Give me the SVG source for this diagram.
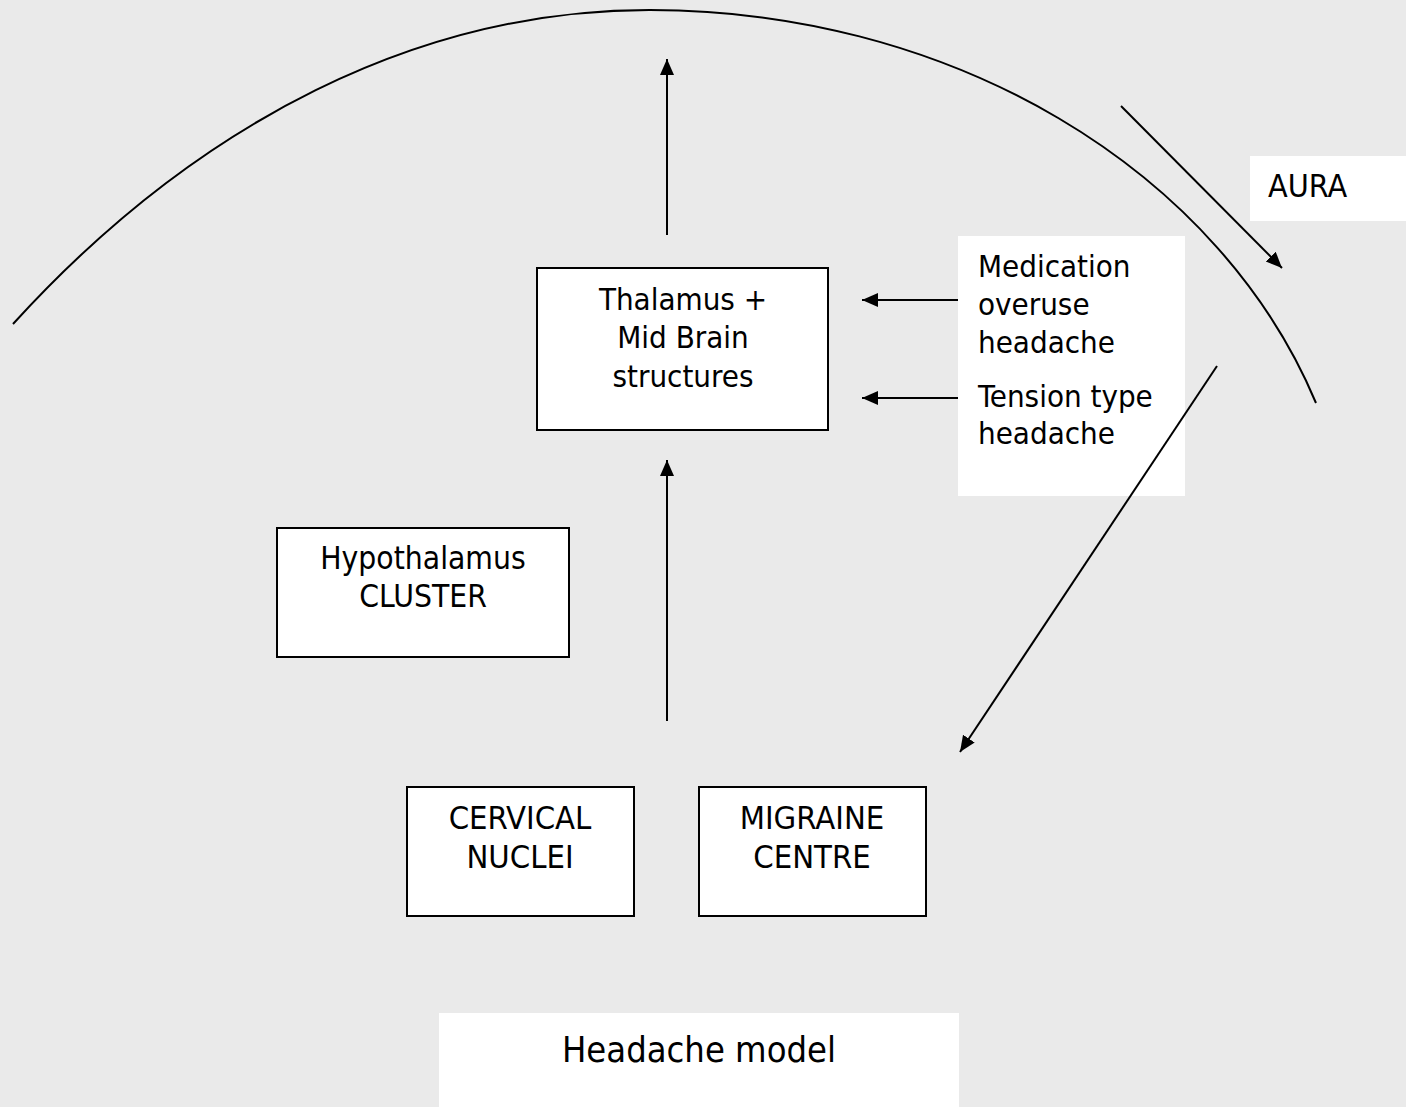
<svg xmlns="http://www.w3.org/2000/svg" width="1406" height="1107" viewBox="0 0 1406 1107">
  <style>
    .bg { fill: #EAEAEA; }
    .box { fill: #FFFFFF; stroke: #000000; stroke-width: 2; }
    .plain { fill: #FFFFFF; stroke: none; }
    .t { font-family: "DejaVu Sans Condensed", "DejaVu Sans", "Liberation Sans", sans-serif; font-stretch: condensed; font-size: 31px; fill: #000000; }
    .big { font-size: 32.5px; }
    .c { text-anchor: middle; }
    .line { stroke: #000000; stroke-width: 2; fill: none; }
  </style>
  <defs>
    <marker id="arrow" markerUnits="userSpaceOnUse" markerWidth="18" markerHeight="16" refX="16" refY="7" orient="auto">
      <path d="M0,0 L16,7 L0,14 Z" fill="#000000"/>
    </marker>
  </defs>
  <rect class="bg" x="0" y="0" width="1406" height="1107"/>

  <g id="connectors">
    <path id="arc" class="line" d="M13,324 A1100,1704 0 0,1 650,10 A705,585 0 0,1 1316,403"/>
    <line class="line" x1="667" y1="235" x2="667" y2="59" marker-end="url(#arrow)"/>
    <line class="line" x1="667" y1="721" x2="667" y2="460" marker-end="url(#arrow)"/>
    <line class="line" x1="958" y1="300" x2="862" y2="300" marker-end="url(#arrow)"/>
    <line class="line" x1="958" y1="398" x2="862" y2="398" marker-end="url(#arrow)"/>
    <line class="line" x1="1121" y1="106" x2="1282" y2="268" marker-end="url(#arrow)"/>
  </g>

  <g id="side-labels">
    <rect class="plain" x="958" y="236" width="227" height="260"/>
    <text class="t" x="978" y="277">Medication</text>
    <text class="t" x="978" y="315">overuse</text>
    <text class="t" x="978" y="353">headache</text>
    <text class="t" x="978" y="407">Tension type</text>
    <text class="t" x="978" y="444">headache</text>
  </g>

  <g id="connectors-over">
    <line class="line" x1="1217" y1="366" x2="960" y2="752" marker-end="url(#arrow)"/>
  </g>

  <g id="aura">
    <rect class="plain" x="1250" y="156" width="156" height="65"/>
    <text class="t" x="1268" y="197" style="font-size:32px">AURA</text>
  </g>

  <g id="thalamus">
    <rect class="box" x="537" y="268" width="291" height="162"/>
    <text class="t c" x="683" y="310">Thalamus +</text>
    <text class="t c" x="683" y="348">Mid Brain</text>
    <text class="t c" x="683" y="387">structures</text>
  </g>

  <g id="hypothalamus">
    <rect class="box" x="277" y="528" width="292" height="129"/>
    <text class="t c" x="423" y="569" style="font-size:31.5px">Hypothalamus</text>
    <text class="t c" x="423" y="607" style="font-size:31.5px">CLUSTER</text>
  </g>

  <g id="cervical">
    <rect class="box" x="407" y="787" width="227" height="129"/>
    <text class="t big c" x="520" y="829">CERVICAL</text>
    <text class="t big c" x="520" y="868">NUCLEI</text>
  </g>

  <g id="migraine">
    <rect class="box" x="699" y="787" width="227" height="129"/>
    <text class="t big c" x="812" y="829">MIGRAINE</text>
    <text class="t big c" x="812" y="868">CENTRE</text>
  </g>

  <g id="title">
    <rect class="plain" x="439" y="1013" width="520" height="94"/>
    <text class="t c" x="699" y="1062" style="font-size:36px">Headache model</text>
  </g>
</svg>
